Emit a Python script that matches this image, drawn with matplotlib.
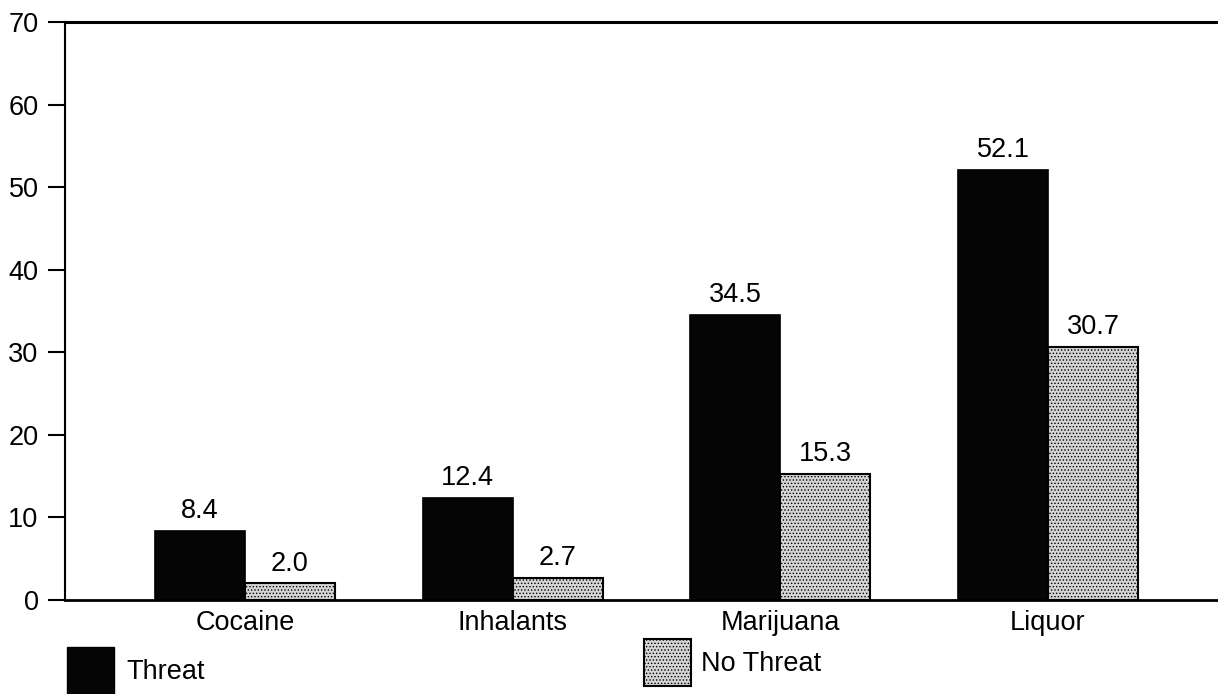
import matplotlib
matplotlib.use("Agg")
import matplotlib.pyplot as plt
from matplotlib.patches import Patch
import numpy as np

categories = ["Cocaine", "Inhalants", "Marijuana", "Liquor"]
threat = [8.4, 12.4, 34.5, 52.1]
no_threat = [2.0, 2.7, 15.3, 30.7]
yticks = [0, 10, 20, 30, 40, 50, 60, 70]

plt.rcParams['font.family'] = ['Liberation Sans', 'DejaVu Sans']
plt.rcParams['hatch.linewidth'] = 0.6

FS = 19.5
fig = plt.figure(figsize=(12.18, 6.94), dpi=100)
ax = fig.add_axes([65/1218, 1-600/694, 1-65/1218, (600-22)/694])

x = np.arange(len(categories))
w = 0.336
b1 = ax.bar(x - w/2, threat, width=w, color='#050505', edgecolor='black', linewidth=1.2)
b2 = ax.bar(x + w/2, no_threat, width=w, color='#d4d4d4', edgecolor='black',
            linewidth=1.5, hatch='.....')

ax.bar_label(b1, labels=[f"{v:.1f}" for v in threat], padding=5, fontsize=FS)
ax.bar_label(b2, labels=[f"{v:.1f}" for v in no_threat], padding=5, fontsize=FS)

ax.set_xlim(-0.672, 3.635)
ax.set_ylim(0, 70)
ax.set_yticks(yticks)
ax.set_xticks(x)
ax.set_xticklabels(categories)
ax.tick_params(axis='y', direction='out', length=12, width=1.5, pad=7, labelsize=FS)
ax.tick_params(axis='x', length=0, pad=7, labelsize=FS)

ax.spines['right'].set_visible(False)
ax.spines['left'].set_linewidth(1.5)
ax.spines['top'].set_linewidth(2.2)
ax.spines['bottom'].set_linewidth(2.0)

h1 = Patch(facecolor='#050505', edgecolor='black')
h2 = Patch(facecolor='#d4d4d4', edgecolor='black', hatch='.....', linewidth=1.5)
fig.legend(handles=[h1], labels=["Threat"], loc='upper left',
           bbox_to_anchor=(67/1218, 1-647/694), frameon=False, fontsize=FS,
           handlelength=1.75, handleheight=2.3, handletextpad=0.45,
           borderpad=0, borderaxespad=0)
fig.legend(handles=[h2], labels=["No Threat"], loc='upper left',
           bbox_to_anchor=(644/1218, 1-639/694), frameon=False, fontsize=FS,
           handlelength=1.75, handleheight=2.3, handletextpad=0.35,
           borderpad=0, borderaxespad=0)

fig.savefig("out.png", dpi=100)
